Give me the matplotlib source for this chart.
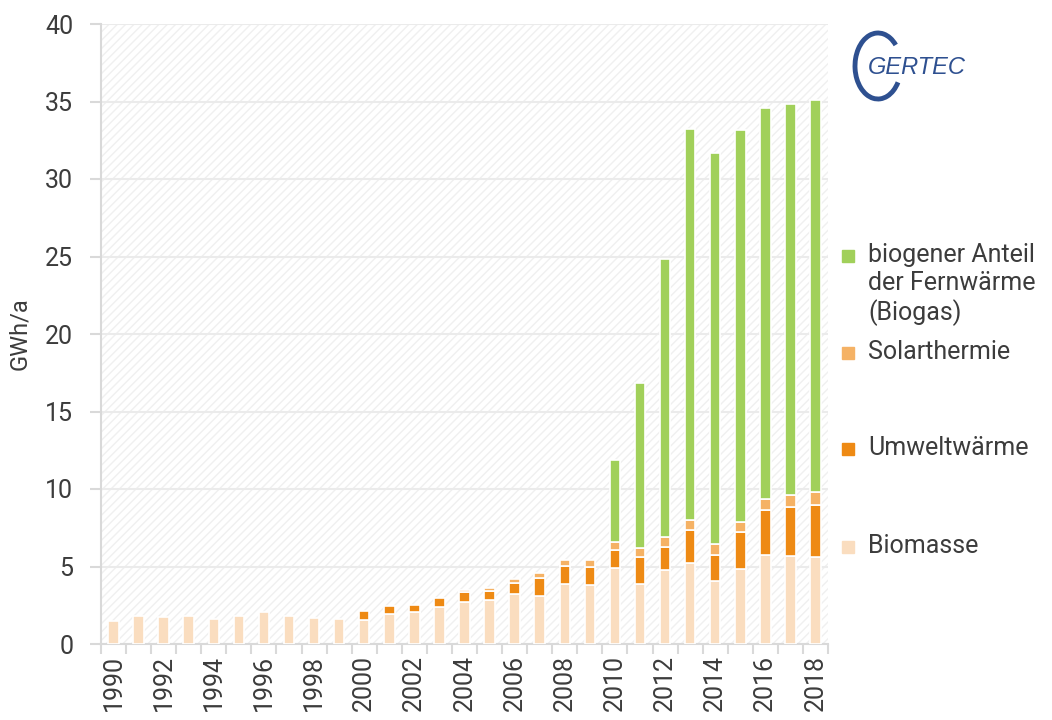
import numpy as np
import matplotlib
matplotlib.use("Agg")
import matplotlib.pyplot as plt
from matplotlib.patches import Rectangle, Arc

plt.rcParams['font.family'] = ['Roboto', 'DejaVu Sans']
plt.rcParams['hatch.linewidth'] = 1.0

years = np.arange(1990, 2019)
biomasse = [1.5, 1.78, 1.74, 1.8, 1.63, 1.78, 2.08, 1.8, 1.7, 1.61,
            1.57, 1.96, 2.04, 2.39, 2.73, 2.82, 3.2, 3.08, 3.87, 3.8,
            4.88, 3.87, 4.77, 5.2, 4.06, 4.84, 5.74, 5.7, 5.63]
umwelt = [0, 0, 0, 0, 0, 0, 0, 0, 0, 0,
          0.56, 0.51, 0.5, 0.61, 0.6, 0.62, 0.71, 1.16, 1.16, 1.15,
          1.16, 1.72, 1.49, 2.13, 1.68, 2.36, 2.88, 3.16, 3.34]
solar = [0, 0, 0, 0, 0, 0, 0, 0, 0, 0,
         0, 0, 0, 0, 0.17, 0.15, 0.26, 0.32, 0.41, 0.49,
         0.52, 0.62, 0.64, 0.69, 0.69, 0.7, 0.73, 0.73, 0.82]
biogas = [0, 0, 0, 0, 0, 0, 0, 0, 0, 0,
          0, 0, 0, 0, 0, 0, 0, 0, 0, 0,
          5.34, 10.63, 17.92, 25.23, 25.27, 25.26, 25.25, 25.27, 25.29]

series = [
    ("Biomasse", biomasse, "#FADDBF"),
    ("Umweltwärme", umwelt, "#EE8A14"),
    ("Solarthermie", solar, "#F5B265"),
    ("biogener Anteil\nder Fernwärme\n(Biogas)", biogas, "#A1D05A"),
]

txt = '#3c3c3c'

fig = plt.figure(figsize=(10.52, 7.2), dpi=100)
ax = fig.add_axes([101/1052, 1 - 644/720, 727/1052, 620/720])

# hatched background
bg = Rectangle((0, 0), 1, 1, transform=ax.transAxes, facecolor='white',
               edgecolor='#f0f0f0', hatch='////', linewidth=0, zorder=0)
ax.add_patch(bg)

bottom = np.zeros(len(years))
for name, vals, col in series:
    vals = np.array(vals, dtype=float)
    mask = vals > 0
    ax.bar(years[mask], vals[mask], bottom=bottom[mask], width=0.42,
           color=col, edgecolor='white', linewidth=1.2, zorder=3)
    bottom += vals

ax.set_xlim(1989.5, 2018.5)
ax.set_ylim(0, 40)
ax.set_yticks(np.arange(0, 41, 5))
ax.yaxis.grid(True, color='#ebebeb', linewidth=1.5, zorder=1)
ax.set_axisbelow(True)

ax.set_xticks(years[::2])
ax.set_xticklabels([str(y) for y in years[::2]], rotation=90)
ax.set_xticks(np.arange(1989.5, 2019, 1), minor=True)
ax.tick_params(axis='x', which='major', length=0, pad=8, labelsize=18,
               labelcolor=txt)
ax.tick_params(axis='x', which='minor', length=7, width=1.5, color='#d9d9d9')
ax.tick_params(axis='y', length=8, width=1.5, color='#d9d9d9', labelsize=18,
               labelcolor=txt, pad=12)

for s in ['top', 'right']:
    ax.spines[s].set_visible(False)
for s in ['left', 'bottom']:
    ax.spines[s].set_color('#d9d9d9')
    ax.spines[s].set_linewidth(1.5)

ax.set_ylabel("GWh/a", fontsize=17, color=txt, labelpad=10)

# legend, drawn entry by entry
leg_y = [255, 352, 448, 546]
for (name, vals, col), y in zip(series[::-1], leg_y):
    fig.add_artist(Rectangle((842/1052, 1 - (y + 7)/720), 12/1052, 12/720,
                             transform=fig.transFigure, color=col))
    fig.text(868/1052, 1 - (y - 12)/720, name, fontsize=18, color=txt,
             va='top', ha='left', linespacing=1.2)

# logo
fig.add_artist(Arc((878/1052, 1 - 66/720), 46/1052, 66/720, theta1=60,
                   theta2=310, transform=fig.transFigure, color='#2E5090',
                   linewidth=3.5))
fig.text(868/1052, 1 - 68/720, "GERTEC", fontsize=17, style='italic',
         color='#2E5090', va='center', ha='left', family='Liberation Sans')

fig.savefig("out.png", dpi=100)
